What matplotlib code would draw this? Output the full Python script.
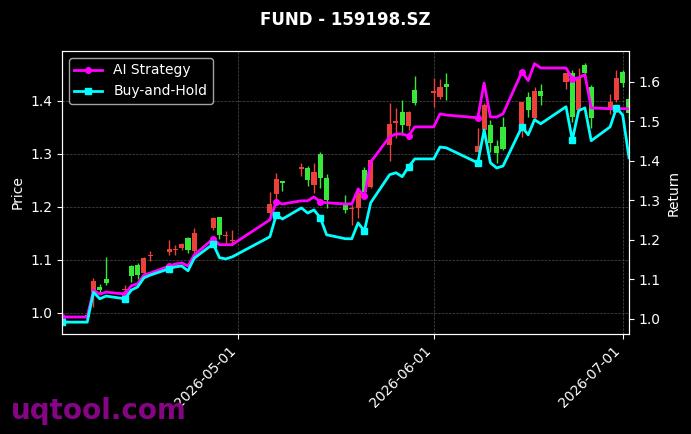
import numpy as np
import pandas as pd
import matplotlib
matplotlib.use("Agg")
import matplotlib.pyplot as plt
import matplotlib.dates as mdates

# ----- data -----
dates = pd.to_datetime([
    '2026-04-03', '2026-04-07', '2026-04-08', '2026-04-09', '2026-04-10',
    '2026-04-13', '2026-04-14', '2026-04-15', '2026-04-16', '2026-04-17',
    '2026-04-20', '2026-04-21', '2026-04-22', '2026-04-23', '2026-04-24',
    '2026-04-27', '2026-04-28', '2026-04-29', '2026-04-30', '2026-05-06',
    '2026-05-07', '2026-05-08', '2026-05-11', '2026-05-12', '2026-05-13',
    '2026-05-14', '2026-05-15', '2026-05-18', '2026-05-19', '2026-05-20',
    '2026-05-21', '2026-05-22', '2026-05-25', '2026-05-26', '2026-05-27',
    '2026-05-28', '2026-05-29', '2026-06-01', '2026-06-02', '2026-06-03',
    '2026-06-08', '2026-06-09', '2026-06-10', '2026-06-11', '2026-06-12',
    '2026-06-15', '2026-06-16', '2026-06-17', '2026-06-18', '2026-06-22',
    '2026-06-23', '2026-06-24', '2026-06-25', '2026-06-26', '2026-06-29',
    '2026-06-30', '2026-07-01', '2026-07-02'])

opens = [0.992, 0.995, 1.040, 1.049, 1.064, 1.043, 1.089, 1.091, 1.075, 1.107,
         1.115, 1.118, 1.123, 1.141, 1.117, 1.160, 1.181, 1.144, 1.136, 1.189,
         1.225, 1.248, 1.272, 1.274, 1.242, 1.300, 1.255, 1.206, 1.195, 1.198,
         1.270, 1.238, 1.317, 1.358, 1.379, 1.353, 1.421, 1.415, 1.408, 1.432,
         1.304, 1.345, 1.355, 1.315, 1.351, 1.351, 1.408, 1.368, 1.419, 1.436,
         1.453, 1.383, 1.468, 1.426, 1.383, 1.402, 1.455, 1.404]
closes = [0.995, 0.993, 1.060, 1.043, 1.057, 1.045, 1.070, 1.072, 1.104, 1.109,
          1.121, 1.120, 1.130, 1.119, 1.151, 1.179, 1.147, 1.146, 1.138, 1.206,
          1.253, 1.245, 1.275, 1.251, 1.266, 1.255, 1.213, 1.194, 1.198, 1.226,
          1.228, 1.289, 1.357, 1.361, 1.355, 1.379, 1.396, 1.418, 1.426, 1.426,
          1.315, 1.392, 1.321, 1.302, 1.309, 1.398, 1.383, 1.419, 1.409, 1.453,
          1.370, 1.443, 1.453, 1.368, 1.398, 1.443, 1.434, 1.377]
highs = [0.997, 0.998, 1.066, 1.055, 1.106, 1.053, 1.091, 1.094, 1.106, 1.117,
         1.138, 1.128, 1.132, 1.143, 1.160, 1.181, 1.181, 1.155, 1.156, 1.228,
         1.264, 1.249, 1.283, 1.277, 1.283, 1.304, 1.262, 1.223, 1.204, 1.236,
         1.275, 1.291, 1.396, 1.387, 1.402, 1.381, 1.447, 1.443, 1.441, 1.453,
         1.349, 1.396, 1.364, 1.326, 1.370, 1.398, 1.417, 1.426, 1.432, 1.453,
         1.458, 1.462, 1.472, 1.430, 1.413, 1.458, 1.458, 1.412]
lows = [0.990, 0.990, 1.011, 1.038, 1.053, 1.038, 1.058, 1.064, 1.073, 1.098,
        1.109, 1.109, 1.119, 1.113, 1.113, 1.157, 1.140, 1.130, 1.128, 1.175,
        1.213, 1.230, 1.258, 1.240, 1.226, 1.236, 1.198, 1.189, 1.166, 1.179,
        1.219, 1.236, 1.287, 1.330, 1.336, 1.345, 1.392, 1.389, 1.404, 1.402,
        1.304, 1.336, 1.304, 1.283, 1.308, 1.332, 1.370, 1.364, 1.392, 1.423,
        1.360, 1.379, 1.440, 1.349, 1.375, 1.398, 1.426, 1.365]

ai_strategy = [1.005, 1.005, 1.073, 1.063, 1.068, 1.063, 1.084, 1.089, 1.111, 1.116,
               1.134, 1.139, 1.142, 1.134, 1.162, 1.203, 1.188, 1.188, 1.188, 1.251,
               1.296, 1.291, 1.299, 1.299, 1.309, 1.296, 1.294, 1.291, 1.291, 1.329,
               1.311, 1.397, 1.461, 1.468, 1.468, 1.463, 1.486, 1.486, 1.519, 1.516,
               1.509, 1.597, 1.511, 1.511, 1.519, 1.625, 1.603, 1.646, 1.635, 1.635,
               1.608, 1.610, 1.618, 1.534, 1.532, 1.532, 1.532, 1.532]
buy_hold = [0.992, 0.992, 1.068, 1.051, 1.058, 1.051, 1.073, 1.081, 1.104, 1.111,
            1.127, 1.132, 1.134, 1.122, 1.154, 1.190, 1.155, 1.152, 1.157, 1.208,
            1.263, 1.253, 1.281, 1.268, 1.276, 1.256, 1.213, 1.203, 1.203, 1.243,
            1.223, 1.294, 1.365, 1.370, 1.360, 1.385, 1.405, 1.405, 1.435, 1.433,
            1.395, 1.478, 1.395, 1.382, 1.387, 1.486, 1.466, 1.504, 1.494, 1.537,
            1.453, 1.527, 1.534, 1.451, 1.486, 1.534, 1.516, 1.408]

up_color = '#ea4139'
down_color = '#38e838'

plt.style.use('dark_background')
fig, ax = plt.subplots(figsize=(6.91, 4.34), dpi=100)
fig.subplots_adjust(left=0.0897, right=0.9103, top=0.8825, bottom=0.2304)

o = np.array(opens)
c = np.array(closes)
cols = [up_color if cc >= oo else down_color for oo, cc in zip(o, c)]
x = mdates.date2num(dates)
ax.vlines(x, lows, highs, colors=cols, linewidth=1)
ax.bar(x, np.abs(c - o), bottom=np.minimum(o, c), width=0.8, color=cols)

ax.set_ylim(0.960, 1.494)
ax.set_ylabel('Price')
ax.grid(True, linestyle='--', linewidth=0.5, color='gray', alpha=0.6)

ax2 = ax.twinx()
ax2.plot(x, ai_strategy, color='#ff00ff', linewidth=2, marker='o', markersize=4,
         markevery=5, label='AI Strategy')
ax2.plot(x, buy_hold, color='#00ffff', linewidth=2, marker='s', markersize=4,
         markevery=5, label='Buy-and-Hold')
ax2.set_ylim(0.962, 1.678)
ax2.set_ylabel('Return')
ax2.legend(loc='upper left')

ax.set_xlim(x[0], x[-1])
ax.xaxis.set_major_locator(mdates.MonthLocator())
ax.xaxis.set_major_formatter(mdates.DateFormatter('%Y-%m-%d'))
plt.setp(ax.get_xticklabels(), rotation=45, ha='right')

fig.suptitle('FUND - 159198.SZ', fontsize=12, fontweight='bold', y=0.975)
fig.text(0.016, 0.035, 'uqtool.com', fontsize=20, fontweight='bold',
         color='#850585')

fig.savefig('out.png', dpi=100)
